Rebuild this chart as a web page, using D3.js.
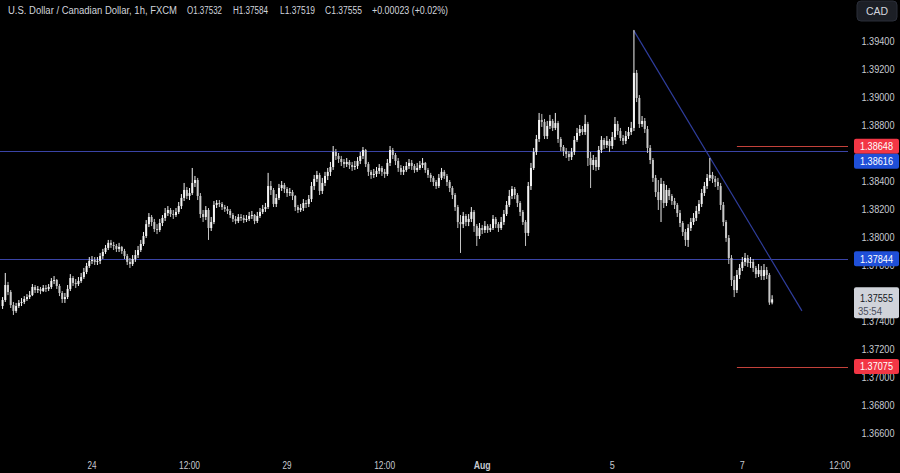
<!DOCTYPE html>
<html><head><meta charset="utf-8">
<script src="https://cdn.jsdelivr.net/npm/d3@7"></script>
<style>html,body{margin:0;padding:0;background:#000;overflow:hidden}svg{display:block}</style>
</head><body><svg id="c" width="900" height="473"></svg>
<script>
// ---- DATA (USD/CAD, 1h, FXCM) ----
const firstOpen = 1.37507;
const closes = [
1.37550,1.37657,1.37607,1.37514,1.37472,1.37507,1.37529,1.37536,1.37557,1.37571,
1.37585,1.37643,1.37621,1.37629,1.37614,1.37636,1.37629,1.37643,1.37686,1.37693,
1.37650,1.37600,1.37557,1.37571,1.37629,1.37707,1.37672,1.37664,1.37686,1.37714,
1.37750,1.37793,1.37829,1.37836,1.37822,1.37829,1.37864,1.37893,1.37922,1.37958,
1.37943,1.37936,1.37915,1.37929,1.37900,1.37864,1.37822,1.37807,1.37843,1.37871,
1.37907,1.37950,1.38007,1.38092,1.38143,1.38107,1.38057,1.38050,1.38100,1.38136,
1.38171,1.38193,1.38164,1.38157,1.38179,1.38221,1.38279,1.38336,1.38293,1.38314,
1.38386,1.38407,1.38293,1.38164,1.38143,1.38193,1.38064,1.38107,1.38229,1.38243,
1.38236,1.38214,1.38200,1.38186,1.38157,1.38129,1.38114,1.38143,1.38136,1.38121,
1.38129,1.38150,1.38157,1.38114,1.38150,1.38179,1.38200,1.38214,1.38364,1.38336,
1.38236,1.38279,1.38350,1.38371,1.38343,1.38314,1.38321,1.38293,1.38214,1.38193,
1.38207,1.38243,1.38236,1.38271,1.38364,1.38415,1.38443,1.38329,1.38386,1.38436,
1.38465,1.38500,1.38607,1.38579,1.38557,1.38536,1.38521,1.38536,1.38514,1.38500,
1.38507,1.38543,1.38579,1.38621,1.38521,1.38465,1.38443,1.38450,1.38472,1.38493,
1.38465,1.38450,1.38529,1.38621,1.38586,1.38543,1.38493,1.38465,1.38479,1.38507,
1.38529,1.38507,1.38479,1.38493,1.38514,1.38529,1.38479,1.38443,1.38422,1.38393,
1.38364,1.38422,1.38465,1.38436,1.38393,1.38350,1.38300,1.38214,1.38107,1.38092,
1.38150,1.38107,1.38129,1.38179,1.38078,1.38007,1.38064,1.38050,1.38078,1.38050,
1.38064,1.38129,1.38092,1.38064,1.38107,1.38164,1.38229,1.38293,1.38343,1.38300,
1.38243,1.38179,1.38107,1.38029,1.38364,1.38493,1.38607,1.38700,1.38836,1.38822,
1.38721,1.38793,1.38829,1.38779,1.38814,1.38700,1.38643,1.38614,1.38593,1.38571,
1.38607,1.38693,1.38743,1.38771,1.38750,1.38807,1.38564,1.38514,1.38550,1.38500,
1.38621,1.38693,1.38657,1.38686,1.38650,1.38714,1.38807,1.38757,1.38707,1.38686,
1.38721,1.38750,1.38779,1.39172,1.38993,1.38807,1.38829,1.38771,1.38636,1.38550,
1.38422,1.38321,1.38264,1.38379,1.38243,1.38336,1.38293,1.38257,1.38229,1.38171,
1.38100,1.38036,1.37979,1.38064,1.38107,1.38136,1.38186,1.38236,1.38314,1.38364,
1.38422,1.38443,1.38415,1.38393,1.38364,1.38229,1.38107,1.37993,1.37850,1.37693,
1.37621,1.37729,1.37779,1.37822,1.37850,1.37815,1.37822,1.37779,1.37735,1.37764,
1.37721,1.37764,1.37729,1.37532,1.37555];
const highs = [
1.37571,1.37743,1.37679,1.37621,1.37536,1.37529,1.37550,1.37564,1.37578,1.37592,
1.37614,1.37664,1.37657,1.37650,1.37643,1.37657,1.37657,1.37664,1.37707,1.37721,
1.37700,1.37664,1.37614,1.37600,1.37657,1.37735,1.37721,1.37700,1.37714,1.37743,
1.37779,1.37815,1.37857,1.37864,1.37857,1.37857,1.37886,1.37915,1.37943,1.37979,
1.37979,1.37965,1.37950,1.37958,1.37936,1.37915,1.37879,1.37850,1.37871,1.37907,
1.37936,1.37979,1.38036,1.38121,1.38171,1.38157,1.38129,1.38092,1.38129,1.38157,
1.38207,1.38221,1.38207,1.38193,1.38207,1.38250,1.38307,1.38386,1.38357,1.38350,
1.38493,1.38436,1.38422,1.38314,1.38193,1.38221,1.38207,1.38143,1.38257,1.38264,
1.38264,1.38250,1.38229,1.38221,1.38200,1.38171,1.38150,1.38164,1.38164,1.38157,
1.38157,1.38179,1.38186,1.38164,1.38179,1.38207,1.38229,1.38243,1.38458,1.38400,
1.38350,1.38307,1.38379,1.38400,1.38386,1.38357,1.38350,1.38336,1.38300,1.38229,
1.38236,1.38271,1.38264,1.38300,1.38393,1.38443,1.38472,1.38458,1.38422,1.38465,
1.38493,1.38536,1.38650,1.38629,1.38600,1.38579,1.38557,1.38564,1.38550,1.38536,
1.38543,1.38571,1.38607,1.38643,1.38629,1.38536,1.38479,1.38486,1.38500,1.38521,
1.38507,1.38486,1.38557,1.38650,1.38636,1.38600,1.38564,1.38514,1.38507,1.38536,
1.38557,1.38550,1.38521,1.38529,1.38543,1.38564,1.38536,1.38493,1.38458,1.38436,
1.38407,1.38450,1.38493,1.38479,1.38450,1.38407,1.38364,1.38314,1.38229,1.38157,
1.38179,1.38164,1.38164,1.38214,1.38193,1.38092,1.38100,1.38086,1.38114,1.38092,
1.38092,1.38157,1.38143,1.38107,1.38143,1.38193,1.38257,1.38336,1.38364,1.38357,
1.38314,1.38257,1.38193,1.38121,1.38393,1.38529,1.38636,1.38729,1.38886,1.38879,
1.38843,1.38829,1.38872,1.38843,1.38886,1.38829,1.38714,1.38657,1.38636,1.38614,
1.38636,1.38721,1.38779,1.38800,1.38793,1.38872,1.38822,1.38607,1.38586,1.38571,
1.38650,1.38721,1.38707,1.38721,1.38700,1.38750,1.38857,1.38829,1.38779,1.38729,
1.38757,1.38786,1.38822,1.39479,1.39193,1.39014,1.38864,1.38850,1.38793,1.38657,
1.38564,1.38443,1.38407,1.38422,1.38400,1.38371,1.38350,1.38307,1.38279,1.38243,
1.38193,1.38114,1.38057,1.38092,1.38136,1.38171,1.38221,1.38264,1.38343,1.38393,
1.38450,1.38564,1.38465,1.38436,1.38422,1.38386,1.38250,1.38121,1.38014,1.37871,
1.37721,1.37764,1.37807,1.37857,1.37886,1.37871,1.37857,1.37843,1.37793,1.37807,
1.37793,1.37807,1.37786,1.37743,1.37584];
const lows = [
1.37486,1.37536,1.37585,1.37493,1.37443,1.37458,1.37493,1.37507,1.37521,1.37543,
1.37557,1.37578,1.37600,1.37600,1.37592,1.37607,1.37607,1.37614,1.37629,1.37664,
1.37629,1.37578,1.37529,1.37529,1.37557,1.37614,1.37650,1.37636,1.37650,1.37672,
1.37700,1.37735,1.37779,1.37807,1.37800,1.37800,1.37807,1.37843,1.37879,1.37907,
1.37922,1.37907,1.37893,1.37893,1.37879,1.37843,1.37800,1.37779,1.37793,1.37822,
1.37850,1.37893,1.37936,1.37993,1.38071,1.38078,1.38036,1.38021,1.38036,1.38078,
1.38114,1.38150,1.38143,1.38129,1.38143,1.38164,1.38200,1.38257,1.38271,1.38264,
1.38300,1.38357,1.38264,1.38136,1.38107,1.38121,1.37979,1.38043,1.38092,1.38207,
1.38214,1.38193,1.38179,1.38164,1.38136,1.38107,1.38092,1.38100,1.38114,1.38100,
1.38107,1.38114,1.38129,1.38092,1.38100,1.38136,1.38164,1.38179,1.38200,1.38300,
1.38214,1.38214,1.38264,1.38329,1.38314,1.38286,1.38293,1.38264,1.38186,1.38171,
1.38179,1.38186,1.38207,1.38214,1.38250,1.38336,1.38393,1.38300,1.38307,1.38364,
1.38407,1.38436,1.38479,1.38550,1.38529,1.38507,1.38493,1.38500,1.38486,1.38472,
1.38479,1.38486,1.38521,1.38557,1.38500,1.38436,1.38415,1.38422,1.38429,1.38450,
1.38436,1.38422,1.38436,1.38507,1.38557,1.38514,1.38465,1.38443,1.38443,1.38465,
1.38486,1.38479,1.38458,1.38465,1.38479,1.38493,1.38458,1.38422,1.38393,1.38364,
1.38343,1.38350,1.38407,1.38415,1.38364,1.38321,1.38271,1.38186,1.38064,1.37886,
1.38064,1.38078,1.38078,1.38107,1.38036,1.37936,1.37986,1.38021,1.38029,1.38029,
1.38036,1.38050,1.38064,1.38036,1.38050,1.38086,1.38150,1.38214,1.38271,1.38271,
1.38214,1.38150,1.38086,1.37936,1.38007,1.38336,1.38479,1.38586,1.38679,1.38786,
1.38700,1.38700,1.38771,1.38757,1.38764,1.38672,1.38614,1.38579,1.38564,1.38543,
1.38550,1.38586,1.38679,1.38721,1.38729,1.38729,1.38507,1.38350,1.38479,1.38472,
1.38479,1.38600,1.38629,1.38636,1.38607,1.38629,1.38693,1.38729,1.38686,1.38657,
1.38664,1.38700,1.38729,1.38757,1.38964,1.38779,1.38786,1.38743,1.38600,1.38521,
1.38393,1.38286,1.38193,1.38107,1.38207,1.38221,1.38264,1.38229,1.38200,1.38143,
1.38071,1.38007,1.37936,1.37929,1.38043,1.38086,1.38114,1.38164,1.38214,1.38293,
1.38343,1.38400,1.38386,1.38357,1.38336,1.38193,1.38078,1.37965,1.37807,1.37650,
1.37571,1.37600,1.37700,1.37757,1.37793,1.37786,1.37779,1.37750,1.37707,1.37714,
1.37693,1.37693,1.37700,1.37515,1.37519];

const timeTickIndex = [33, 69, 105, 141, 177, 225, 273, 309];
const timeTickLabels = ["24", "12:00", "29", "12:00", "Aug", "5", "7", "12:00"];
const priceTicks = [1.394,1.392,1.390,1.388,1.386,1.384,1.382,1.380,1.378,1.376,1.374,1.372,1.370,1.368,1.366];
const blueLevels = [1.38616, 1.37844];
const redLevels = [1.38648, 1.37075];
const redLevelStartIndex = 271;
const trendIndex = [233, 295];
const trendPrice = [1.39472, 1.37472];
const lastPrice = 1.37555;
const countdown = "35:54";
const headerParts = [
  ["U.S. Dollar / Canadian Dollar, 1h, FXCM", 8, 169],
  ["O1.37532", 187, 35],
  ["H1.37584", 233, 35],
  ["L1.37519", 280, 35],
  ["C1.37555", 325, 37],
  ["+0.00023 (+0.02%)", 372, 76]
];

// ---- CHART ----
const W = 900, H = 473, plotW = 848, plotH = 450;
const FONT = "Liberation Sans, Arial, sans-serif";
const svg = d3.select("#c");
svg.append("rect").attr("width", W).attr("height", H).attr("fill", "#000");

const x = d3.scaleLinear().domain([-0.95, 312]).range([0, plotW]);
const y = d3.scaleLinear().domain([1.366, 1.394]).range([433, 41]);

svg.append("clipPath").attr("id", "clip").append("rect").attr("width", plotW).attr("height", plotH);
const plot = svg.append("g").attr("clip-path", "url(#clip)");

// horizontal levels
plot.selectAll("line.blue").data(blueLevels).enter().append("line")
  .attr("x1", 0).attr("x2", plotW)
  .attr("y1", d => Math.round(y(d)) + 0.5).attr("y2", d => Math.round(y(d)) + 0.5)
  .attr("stroke", "#3a44a6").attr("stroke-width", 1.1);
plot.selectAll("line.red").data(redLevels).enter().append("line")
  .attr("x1", x(redLevelStartIndex)).attr("x2", plotW)
  .attr("y1", d => Math.round(y(d)) + 0.5).attr("y2", d => Math.round(y(d)) + 0.5)
  .attr("stroke", "#c4423b").attr("stroke-width", 1.1);

// trend line
plot.append("line")
  .attr("x1", x(trendIndex[0])).attr("y1", y(trendPrice[0]))
  .attr("x2", x(trendIndex[1])).attr("y2", y(trendPrice[1]))
  .attr("stroke", "#2f3d9c").attr("stroke-width", 1.2);

// candles
const candles = closes.map((c, i) => ({
  i, o: i === 0 ? firstOpen : closes[i - 1], c, h: highs[i], l: lows[i]
}));
const cg = plot.append("g");
cg.selectAll("line.wick").data(candles).enter().append("line")
  .attr("x1", d => x(d.i)).attr("x2", d => x(d.i))
  .attr("y1", d => y(Math.max(d.h, d.o, d.c)))
  .attr("y2", d => y(Math.min(d.l, d.o, d.c)))
  .attr("stroke", d => d.c >= d.o ? "#f2f2f2" : "#c4c4c4").attr("stroke-width", 1);
cg.selectAll("rect.body").data(candles).enter().append("rect")
  .attr("x", d => x(d.i) - 1)
  .attr("width", 2)
  .attr("y", d => y(Math.max(d.o, d.c)))
  .attr("height", d => Math.max(1, y(Math.min(d.o, d.c)) - y(Math.max(d.o, d.c))))
  .attr("fill", d => d.c >= d.o ? "#f4f4f4" : "#c8c8c8");

// level label boxes (with simple collision spreading)
const boxes = [
  { p: redLevels[0], col: "#f23645" },
  { p: blueLevels[0], col: "#1f4fd8" },
  { p: blueLevels[1], col: "#1f4fd8" },
  { p: redLevels[1], col: "#f23645" }
].map(b => ({ ...b, cy: y(b.p) }));
boxes.sort((a, b) => a.cy - b.cy);
for (let k = 1; k < boxes.length; k++) {
  if (boxes[k].cy - boxes[k - 1].cy < 15) boxes[k].cy = boxes[k - 1].cy + 15;
}
const bx = 854, bw = 45, bh = 15;

// price axis labels (a label fully hidden behind a level box is not drawn)
const axisCx = 878;
const visibleTicks = priceTicks.filter(p => !boxes.some(b => Math.abs(b.cy - y(p)) < 4) &&
  !(boxes.filter(b => Math.abs(b.cy - y(p)) < 12).length > 1));
svg.selectAll("text.pt").data(visibleTicks).enter().append("text")
  .attr("x", axisCx).attr("y", d => y(d) + 3.8)
  .attr("text-anchor", "middle")
  .attr("font-family", FONT).attr("font-size", 10.5)
  .attr("textLength", 33).attr("lengthAdjust", "spacingAndGlyphs")
  .attr("fill", "#c7cad1").text(d => d.toFixed(5));

boxes.forEach(b => {
  svg.append("rect").attr("x", bx).attr("y", b.cy - bh / 2).attr("width", bw).attr("height", bh)
    .attr("rx", 2).attr("fill", b.col);
  svg.append("text").attr("x", bx + bw / 2).attr("y", b.cy + 3.8).attr("text-anchor", "middle")
    .attr("font-family", FONT).attr("font-size", 10.5)
    .attr("textLength", 33).attr("lengthAdjust", "spacingAndGlyphs")
    .attr("fill", "#ffffff").text(b.p.toFixed(5));
});

// last price box
const ly = y(lastPrice);
svg.append("rect").attr("x", bx).attr("y", ly - 12).attr("width", bw).attr("height", 31)
  .attr("rx", 2).attr("fill", "#d0d3da");
svg.append("text").attr("x", bx + bw / 2).attr("y", ly + 2.5).attr("text-anchor", "middle")
  .attr("font-family", FONT).attr("font-size", 10.5)
  .attr("textLength", 33).attr("lengthAdjust", "spacingAndGlyphs")
  .attr("fill", "#131722").text(lastPrice.toFixed(5));
svg.append("text").attr("x", bx + 4).attr("y", ly + 16).attr("text-anchor", "start")
  .attr("font-family", FONT).attr("font-size", 10.5)
  .attr("textLength", 24).attr("lengthAdjust", "spacingAndGlyphs")
  .attr("fill", "#4a4e5a").text(countdown);

// time axis
svg.selectAll("text.tt").data(timeTickIndex).enter().append("text")
  .attr("x", d => x(d)).attr("y", 469)
  .attr("text-anchor", "middle")
  .attr("font-family", FONT).attr("font-size", 10.5)
  .attr("font-weight", (d, k) => timeTickLabels[k] === "Aug" ? "bold" : "normal")
  .attr("textLength", (d, k) => { const t = timeTickLabels[k]; return t === "Aug" ? 17 : t.length === 1 ? 5 : t.length === 2 ? 9 : 21; })
  .attr("lengthAdjust", "spacingAndGlyphs")
  .attr("fill", "#c7cad1").text((d, k) => timeTickLabels[k]);

// header
headerParts.forEach(([t, hx, len]) => {
  svg.append("text").attr("x", hx).attr("y", 13.5)
    .attr("font-family", FONT).attr("font-size", 10)
    .attr("textLength", len).attr("lengthAdjust", "spacingAndGlyphs")
    .attr("fill", "#d1d4dc").text(t);
});

// currency button
svg.append("rect").attr("x", 857).attr("y", 1).attr("width", 40).attr("height", 20).attr("rx", 4)
  .attr("fill", "#1c1f26").attr("stroke", "#2a2e39");
svg.append("text").attr("x", 877).attr("y", 15).attr("text-anchor", "middle")
  .attr("font-family", FONT).attr("font-size", 10.5)
  .attr("fill", "#d1d4dc").text("CAD");
</script></body></html>
